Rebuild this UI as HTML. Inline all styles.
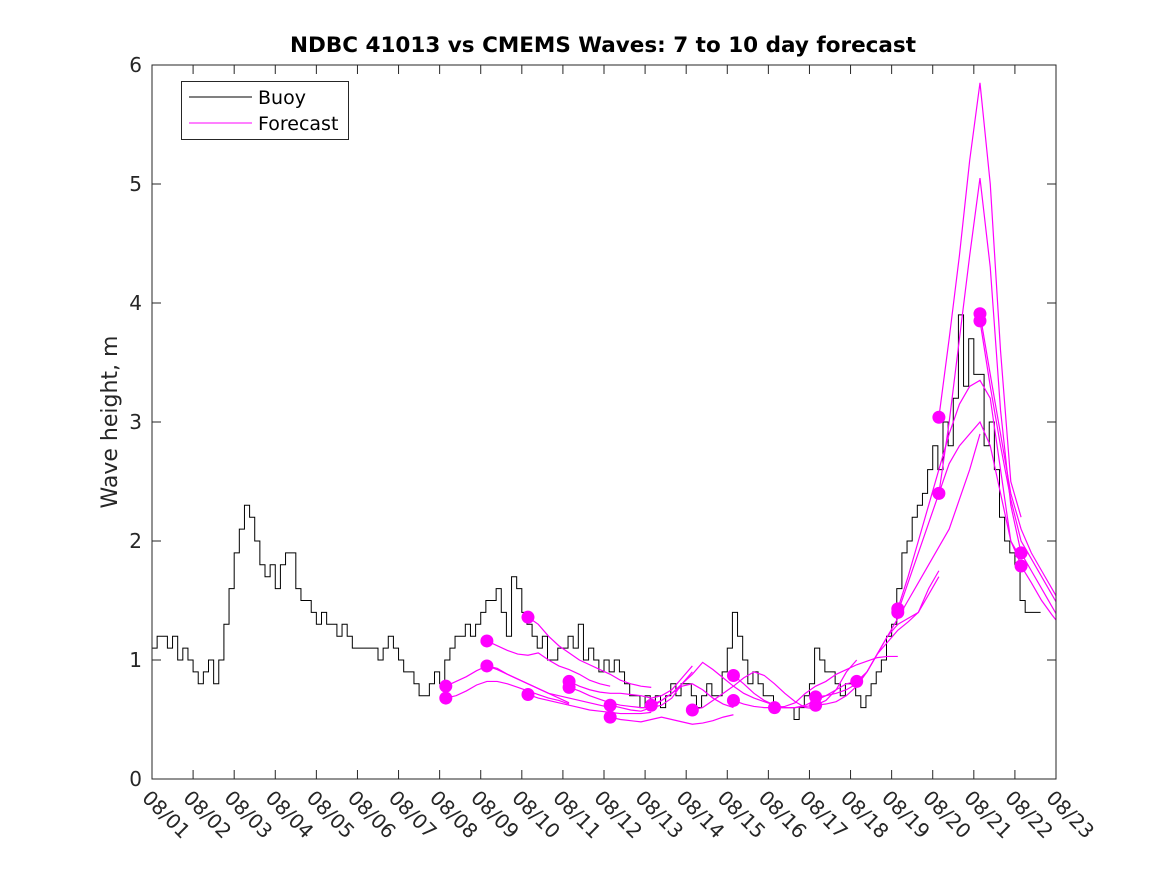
<!DOCTYPE html>
<html><head><meta charset="utf-8"><style>
html,body{margin:0;padding:0;background:#fff}
svg{display:block;font-family:"DejaVu Sans","Liberation Sans",sans-serif}
</style></head><body>
<svg id="chart" width="1167" height="875" viewBox="0 0 1167 875" xmlns="http://www.w3.org/2000/svg">
<rect width="1167" height="875" fill="#fff"/>
<text x="603" y="52" text-anchor="middle" font-weight="bold" font-size="21.5" fill="#000">NDBC 41013 vs CMEMS Waves: 7 to 10 day forecast</text>
<text transform="translate(117,422) rotate(-90)" text-anchor="middle" font-size="22" fill="#262626">Wave height, m</text>
<g id="plot"></g>
<g id="axes"></g>
<g>
<rect x="181.5" y="81.5" width="167" height="58" fill="#fff" stroke="#262626" stroke-width="1"/>
<line x1="189" y1="97" x2="252" y2="97" stroke="#000" stroke-width="1"/>
<text x="258" y="104" font-size="19" fill="#000">Buoy</text>
<line x1="189" y1="123" x2="252" y2="123" stroke="#ff00ff" stroke-width="1"/>
<text x="258" y="130" font-size="19" fill="#000">Forecast</text>
</g>
</svg>
<script>
const xTickLabels=["08/01","08/02","08/03","08/04","08/05","08/06","08/07","08/08","08/09","08/10","08/11","08/12","08/13","08/14","08/15","08/16","08/17","08/18","08/19","08/20","08/21","08/22","08/23"];
const yTicks=[0,1,2,3,4,5,6];
const buoyStart=0, buoyStep=0.125;
const buoyValues=[
1.1,1.2,1.2,1.1,1.2,1.0,1.1,1.0,
0.9,0.8,0.9,1.0,0.8,1.0,1.3,1.6,
1.9,2.1,2.3,2.2,2.0,1.8,1.7,1.8,
1.6,1.8,1.9,1.9,1.6,1.5,1.5,1.4,
1.3,1.4,1.3,1.3,1.2,1.3,1.2,1.1,
1.1,1.1,1.1,1.1,1.0,1.1,1.2,1.1,
1.0,0.9,0.9,0.8,0.7,0.7,0.8,0.9,
0.8,1.0,1.1,1.2,1.2,1.3,1.2,1.3,
1.4,1.5,1.5,1.6,1.4,1.2,1.7,1.6,
1.4,1.3,1.2,1.1,1.2,1.0,1.0,1.1,
1.1,1.2,1.1,1.3,1.0,1.1,1.0,0.9,
1.0,0.9,1.0,0.9,0.8,0.7,0.7,0.6,
0.7,0.6,0.7,0.6,0.7,0.8,0.7,0.8,
0.8,0.7,0.6,0.7,0.8,0.7,0.7,0.9,
1.1,1.4,1.2,1.0,0.8,0.9,0.8,0.7,
0.7,0.6,0.6,0.6,0.6,0.5,0.6,0.7,
0.8,1.1,1.0,0.9,0.9,0.8,0.7,0.8,
0.8,0.7,0.6,0.7,0.8,0.9,1.0,1.2,
1.3,1.6,1.9,2.0,2.2,2.3,2.4,2.6,
2.8,2.6,3.0,2.8,3.2,3.9,3.3,3.7,
3.4,3.4,2.8,3.0,2.6,2.2,2.0,1.9,
1.8,1.5,1.4,1.4,1.4];
const fcStep=0.25;
const fcStarts=[7.15,7.15,8.15,8.15,9.15,9.15,10.15,10.15,11.15,11.15,12.15,13.15,14.15,14.15,15.15,16.15,16.15,17.15,18.15,18.15,19.15,19.15,20.15,20.15,21.15,21.15];
const fcValues=[
[0.78,0.82,0.86,0.91,0.95,0.93,0.88,0.84,0.8,0.76,0.72,0.68,0.64],
[0.68,0.7,0.74,0.79,0.82,0.82,0.8,0.77,0.74,0.71,0.68,0.66,0.63],
[1.16,1.12,1.08,1.05,1.04,1.06,1.0,0.95,0.92,0.88,0.83,0.8,0.78],
[0.95,0.92,0.88,0.84,0.8,0.76,0.72,0.7,0.68,0.66,0.64,0.62,0.6],
[1.36,1.3,1.2,1.12,1.06,1.0,0.96,0.92,0.88,0.83,0.8,0.78,0.77],
[0.71,0.68,0.66,0.64,0.62,0.6,0.58,0.57,0.56,0.55,0.55,0.55,0.56],
[0.82,0.78,0.75,0.73,0.72,0.72,0.71,0.7,0.68,0.7,0.75,0.85,0.95],
[0.77,0.74,0.7,0.67,0.64,0.62,0.61,0.6,0.6,0.62,0.68,0.8,0.9],
[0.62,0.6,0.58,0.57,0.6,0.66,0.72,0.78,0.8,0.75,0.68,0.63,0.6],
[0.52,0.5,0.49,0.48,0.5,0.52,0.5,0.48,0.46,0.47,0.49,0.52,0.54],
[0.62,0.66,0.72,0.8,0.88,0.98,0.92,0.85,0.78,0.72,0.68,0.65,0.62],
[0.58,0.6,0.66,0.72,0.78,0.85,0.9,0.87,0.8,0.72,0.65,0.6,0.59],
[0.87,0.8,0.72,0.66,0.62,0.6,0.6,0.62,0.66,0.7,0.75,0.8,0.82],
[0.66,0.63,0.61,0.6,0.6,0.6,0.6,0.61,0.62,0.66,0.75,0.9,1.0],
[0.6,0.61,0.64,0.72,0.78,0.82,0.88,0.92,0.96,0.99,1.02,1.03,1.03],
[0.69,0.7,0.72,0.75,0.8,0.9,1.05,1.2,1.3,1.35,1.4,1.6,1.75],
[0.62,0.63,0.65,0.7,0.78,0.9,1.05,1.15,1.25,1.32,1.4,1.55,1.7],
[0.82,0.9,1.05,1.2,1.35,1.5,1.65,1.8,1.95,2.1,2.35,2.6,2.9],
[1.43,1.7,2.0,2.3,2.6,2.9,3.15,3.3,3.35,3.2,2.6,2.0,1.85],
[1.4,1.65,1.9,2.15,2.4,2.65,2.8,2.9,3.0,2.8,2.4,2.0,1.8],
[3.04,3.7,4.4,5.2,5.85,5.0,3.6,2.5,2.2],
[2.4,3.0,3.7,4.4,5.05,4.3,3.1,2.3,1.9],
[3.91,3.4,2.9,2.4,2.1,1.9,1.75,1.6,1.45,1.3,1.25],
[3.85,3.3,2.8,2.35,2.0,1.85,1.7,1.55,1.4,1.3],
[1.9,1.75,1.6,1.45,1.3],
[1.79,1.65,1.5,1.38,1.27]];

const X0=152,X1=1056,Y0=779,Y1=65,DAYS=22,YMAX=6;
function xs(d){return X0+(X1-X0)*d/DAYS;}
function ys(v){return Y0-(Y0-Y1)*v/YMAX;}
const NS="http://www.w3.org/2000/svg";
const plot=document.getElementById('plot'), axes=document.getElementById('axes');
function mk(tag,attrs,parent){const e=document.createElementNS(NS,tag);for(const k in attrs)e.setAttribute(k,attrs[k]);parent.appendChild(e);return e;}
const cp=mk('clipPath',{id:'clip'},plot);
mk('rect',{x:X0,y:Y1,width:X1-X0,height:Y0-Y1},cp);
let d='';
buoyValues.forEach((v,i)=>{const x=xs(buoyStart+i*buoyStep),y=ys(v);if(i===0)d+='M'+x+' '+y;else d+=' H'+x+' V'+y;});
d+=' H'+xs(buoyStart+buoyValues.length*buoyStep);
const bl=mk('path',{d:d,fill:'none',stroke:'#000','stroke-width':1},plot);


fcValues.forEach((vals,k)=>{
  const pts=vals.map((v,i)=>xs(fcStarts[k]+i*fcStep)+','+ys(v)).join(' ');
  const pl=mk('polyline',{points:pts,fill:'none',stroke:'#ff00ff','stroke-width':1.2,'clip-path':'url(#clip)'},plot);
  
  
});
fcValues.forEach((vals,k)=>{
  const c=mk('circle',{cx:xs(fcStarts[k]),cy:ys(vals[0]),r:6.5,fill:'#ff00ff'},plot);
  
  
});
const box=mk('rect',{x:X0,y:Y1,width:X1-X0,height:Y0-Y1,fill:'none',stroke:'#262626','stroke-width':1},axes);


xTickLabels.forEach((lab,i)=>{
  const x=xs(i);
  mk('line',{x1:x,y1:Y0,x2:x,y2:Y0-9,stroke:'#262626'},axes);
  mk('line',{x1:x,y1:Y1,x2:x,y2:Y1+9,stroke:'#262626'},axes);
  const t=mk('text',{transform:'translate('+(x-11)+',799) rotate(45)','font-size':20,fill:'#262626'},axes);
  t.textContent=lab;
  
  
});
yTicks.forEach(v=>{
  const y=ys(v);
  mk('line',{x1:X0,y1:y,x2:X0+9,y2:y,stroke:'#262626'},axes);
  mk('line',{x1:X1,y1:y,x2:X1-9,y2:y,stroke:'#262626'},axes);
  const t=mk('text',{x:X0-10,y:y+7,'text-anchor':'end','font-size':20,fill:'#262626'},axes);
  t.textContent=v;
  
  
});
</script>
</body></html>
